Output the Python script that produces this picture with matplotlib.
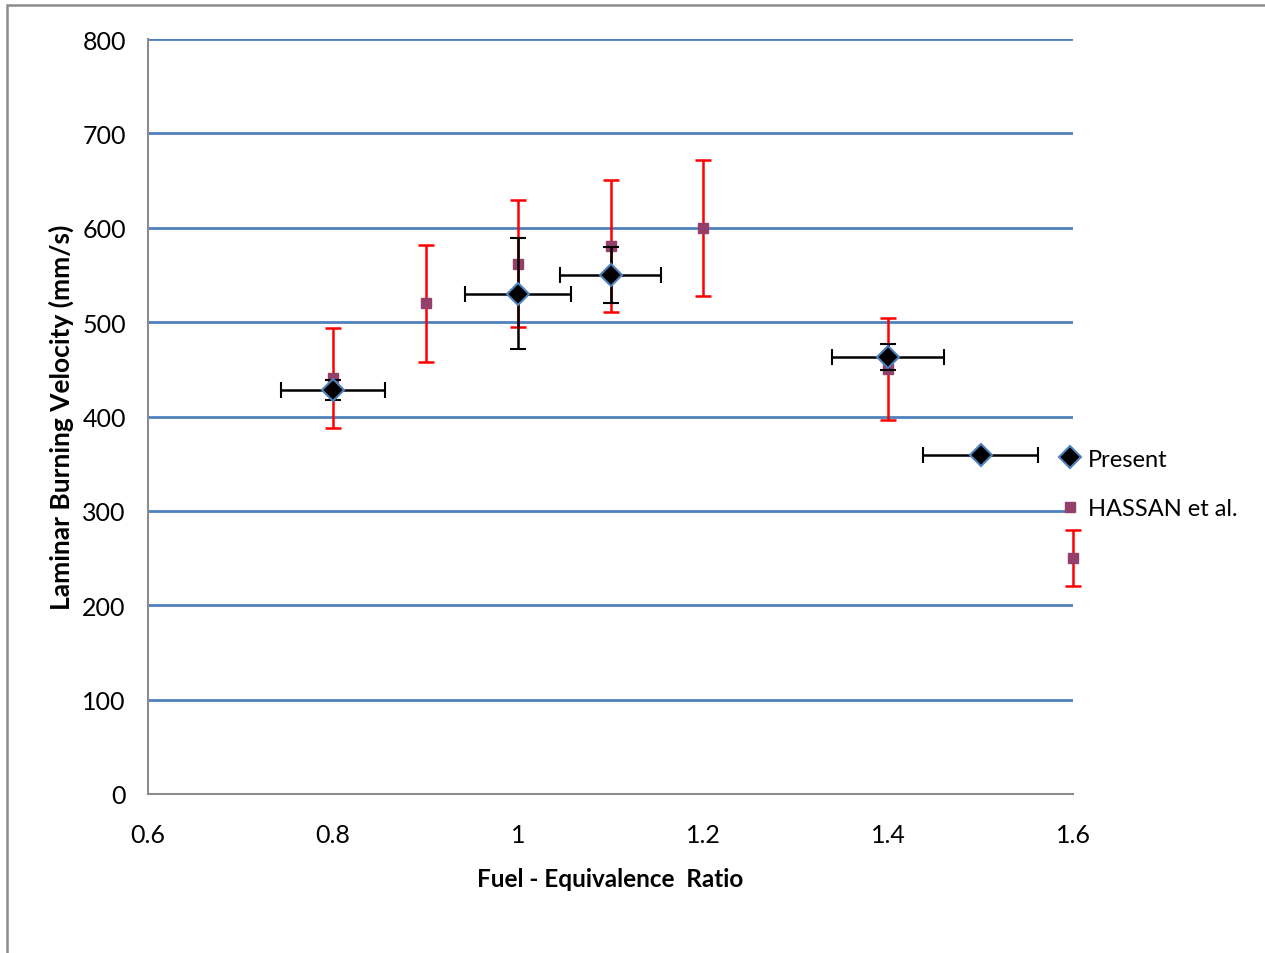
import matplotlib.pyplot as plt
from matplotlib.patches import Rectangle
from matplotlib.lines import Line2D

# Present study
phi_present = [0.8, 1.0, 1.1, 1.4, 1.5]
su_present = [428, 530, 550, 463, 359]
su_present_err = [11, 59, 30, 14, 0]
phi_present_err = [0.056, 0.057, 0.055, 0.061, 0.062]

# HASSAN et al.
phi_hassan = [0.8, 0.9, 1.0, 1.1, 1.2, 1.4, 1.6]
su_hassan = [441, 520, 562, 581, 600, 450, 250]
su_hassan_err = [53, 62, 67, 70, 72, 54, 30]

W, H = 1265, 954
fig = plt.figure(figsize=(W / 100, H / 100), dpi=100)
plt.rcParams['font.family'] = ['Lato', 'DejaVu Sans']

# chart area border (only left/top visible in the reference)
fig.patches.append(Rectangle((7 / W, -0.1), 1.2, 1 - 6 / H + 0.1, transform=fig.transFigure,
                             fill=False, edgecolor='#8c8c8c', linewidth=1.8))

ax = fig.add_axes([148 / W, 1 - 795 / H, (1073 - 148) / W, (795 - 40) / H])

sq_style = dict(marker='s', color='#953F6B', markersize=7, linestyle='none')
dm_style = dict(marker='D', markerfacecolor='black', markeredgecolor='#4F81BD',
                markeredgewidth=1.5, markersize=11, linestyle='none')

ax.errorbar(phi_hassan, su_hassan, yerr=su_hassan_err, ecolor='red', elinewidth=1.8,
            capsize=6, capthick=1.8, zorder=3, clip_on=False, **sq_style)
ax.errorbar(phi_present, su_present, yerr=su_present_err, xerr=phi_present_err,
            ecolor='black', elinewidth=1.8, capsize=6, capthick=1.8, zorder=4,
            clip_on=False, **dm_style)

ax.set_xlim(0.6, 1.6)
ax.set_ylim(0, 800)
ax.set_xticks([0.6, 0.8, 1.0, 1.2, 1.4, 1.6])
ax.set_xticklabels(['0.6', '0.8', '1', '1.2', '1.4', '1.6'])
ax.set_yticks(range(0, 801, 100))
ax.tick_params(length=0, labelsize=18)
ax.tick_params(axis='x', pad=21)
ax.tick_params(axis='y', pad=16)
ax.yaxis.grid(True, color='#4F81BD', linewidth=2)
ax.set_axisbelow(True)
for s in ['top', 'right']:
    ax.spines[s].set_visible(False)
for s in ['left', 'bottom']:
    ax.spines[s].set_color('#8c8c8c')
    ax.spines[s].set_linewidth(1.5)

ax.set_xlabel('Fuel - Equivalence  Ratio', fontsize=17.5, fontweight='bold', labelpad=15)
ax.set_ylabel('Laminar Burning Velocity (mm/s)', fontsize=19, fontweight='bold', labelpad=6)

handles = [Line2D([], [], **dm_style), Line2D([], [], **sq_style)]
ax.legend(handles, ['Present', 'HASSAN et al.'], loc='center left',
          bbox_to_anchor=(0.984, 0.411), frameon=False, fontsize=17,
          handletextpad=0.27, labelspacing=1.2, handlelength=1.0,
          borderpad=0, borderaxespad=0)

fig.savefig('out.png', dpi=100)
